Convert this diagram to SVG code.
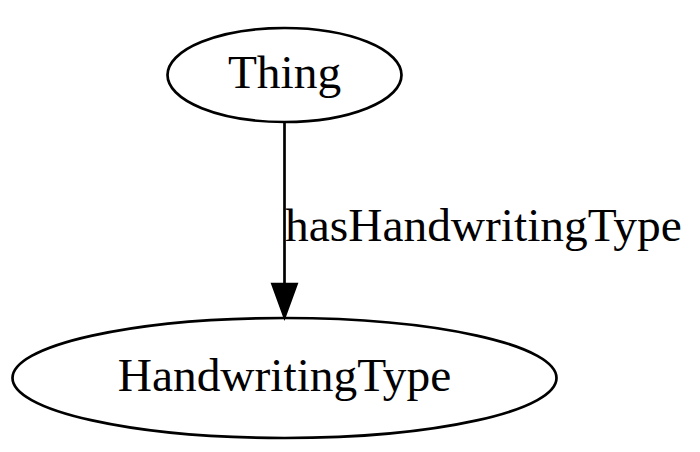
<svg xmlns="http://www.w3.org/2000/svg" width="700" height="452" viewBox="0 0 700 452">
<style>
.n{fill:none;stroke:#000;stroke-width:2.7}
.t{font-family:"Liberation Serif","Times New Roman",serif;font-size:47.4px;fill:#000}
.e{stroke:#000;stroke-width:2.7;fill:none}
.a{fill:#000;stroke:#000;stroke-width:2.7}
</style>
<rect width="700" height="452" fill="#fff"/>
<g id="connectors">
<path class="e" d="M284.5,122 L284.5,284"/>
<polygon class="a" points="272.5,284 296.5,284 284.5,317"/>
<text class="t" x="285" y="241">hasHandwritingType</text>
</g>
<g id="node-thing">
<ellipse class="n" cx="284.5" cy="75" rx="117" ry="47"/>
<text class="t" x="284.5" y="88" text-anchor="middle">Thing</text>
</g>
<g id="node-handwritingtype">
<ellipse class="n" cx="284.5" cy="378" rx="272" ry="60"/>
<text class="t" x="284.5" y="391" text-anchor="middle">HandwritingType</text>
</g>
</svg>
